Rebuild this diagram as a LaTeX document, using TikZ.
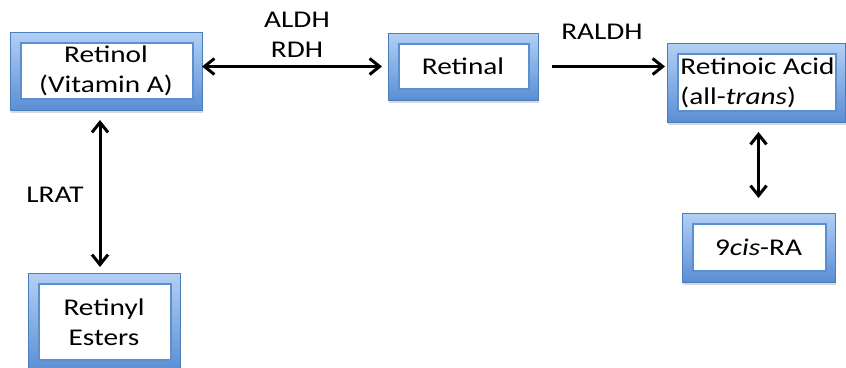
\documentclass[tikz,border=0pt]{standalone}
\usepackage{fontspec}
\setmainfont{Carlito}[FakeStretch=1.22]
\usetikzlibrary{arrows.meta, positioning, shadows}

\definecolor{frametop}{HTML}{B3D0F4}
\definecolor{framebot}{HTML}{5A8ED5}
\definecolor{frameline}{HTML}{4A7EBB}
\definecolor{innerline}{HTML}{5B8FD0}

\tikzset{
	every node/.style={font=\fontsize{24}{30}\selectfont},
	molecule/.style={rectangle, draw=frameline, line width=0.8pt, outer sep=0pt,
		top color=frametop, bottom color=framebot,
		drop shadow={opacity=0.3, shadow xshift=1pt, shadow yshift=-3pt},
		path picture={\draw[innerline, line width=1.2pt, fill=white]
			([shift={(11pt,11pt)}]path picture bounding box.south west) rectangle
			([shift={(-9pt,-11pt)}]path picture bounding box.north east);}},
	enzyme/.style={inner sep=0pt},
	conv/.style={line width=3pt, -{Straight Barb[length=10pt,width=16pt]}},
	twoway/.style={line width=3pt, {Straight Barb[length=10pt,width=16pt]}-{Straight Barb[length=10pt,width=16pt]}},
}

\begin{document}
\begin{tikzpicture}[x=1pt, y=1pt]
	\useasboundingbox (0,0) rectangle (846,-367);
	% boxes
	\node[molecule, minimum width=192pt, minimum height=78pt, align=center] (retinol) at (106,-71) {Retinol\\(Vitamin A)};
	\node[molecule, minimum width=150pt, minimum height=67pt, right=186pt of retinol, yshift=4.5pt] (retinal) {Retinal};
	\node[molecule, minimum width=178pt, minimum height=79pt, align=left, right=129pt of retinal, yshift=-16pt] (acid) {\hspace*{3pt}Retinoic Acid\\\hspace*{3pt}(all-\textit{trans})};
	\node[molecule, minimum width=153pt, minimum height=69pt, below=91pt of acid, xshift=2.5pt] (cisra) {9\textit{cis}-RA};
	\node[molecule, minimum width=152pt, minimum height=98pt, align=center, below=163pt of retinol, xshift=-2pt] (esters) {Retinyl\\Esters};
	% enzymes
	\node[enzyme, align=center, anchor=base] (aldh) at (297,-57) {ALDH\\RDH};
	\node[enzyme, anchor=base] (raldh) at (602,-39) {RALDH};
	\node[enzyme, anchor=base] (lrat) at (55,-202) {LRAT};
	% conversions
	\draw[twoway, shorten >=6pt] (retinol.east |- retinal.west) -- (retinal.west);
	\draw[conv, shorten <=14pt, shorten >=2pt] (retinal.east) -- (retinal.east -| acid.west);
	\draw[twoway, shorten <=10pt, shorten >=6pt] ([xshift=-6pt]retinol.south) -- ([xshift=-6pt]retinol.south |- esters.north);
	\draw[twoway, shorten <=10pt, shorten >=15pt] (acid.south -| cisra.north) -- (cisra.north);
\end{tikzpicture}
\end{document}
